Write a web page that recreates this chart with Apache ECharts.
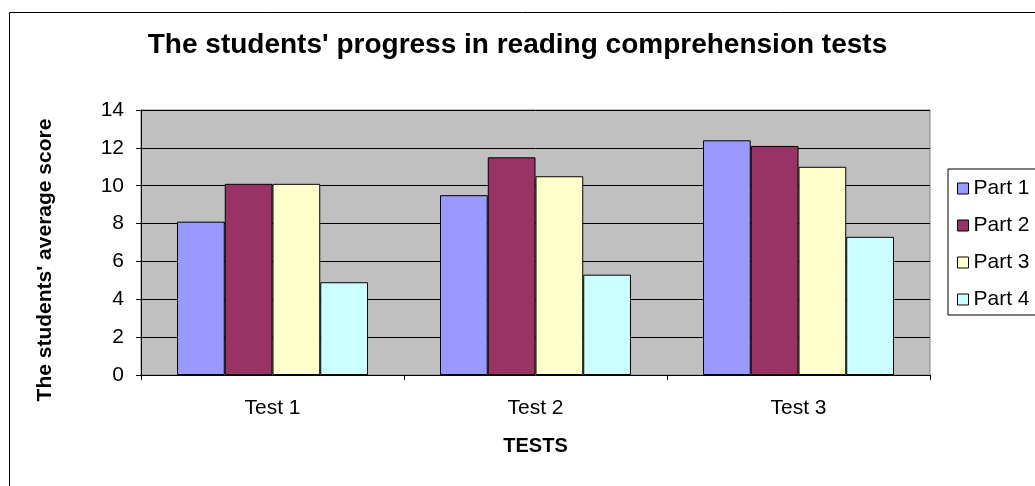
<!DOCTYPE html>
<html>
<head>
<meta charset="utf-8">
<script src="https://cdn.jsdelivr.net/npm/echarts@6/dist/echarts.min.js"></script>
<style>
  html, body { margin: 0; padding: 0; background: #fff; }
  #main { width: 1035px; height: 486px; }
</style>
</head>
<body>
<div id="main"></div>
<script>
// data
const categories = ['Test 1', 'Test 2', 'Test 3'];
const seriesNames = ['Part 1', 'Part 2', 'Part 3', 'Part 4'];
const part1 = [8.1, 9.5, 12.4];
const part2 = [10.1, 11.5, 12.1];
const part3 = [10.1, 10.5, 11.0];
const part4 = [4.9, 5.3, 7.3];
const yTicks = [0, 2, 4, 6, 8, 10, 12, 14];

const colors = ['#9999FF', '#993366', '#FFFFCC', '#CCFFFF'];
const values = [part1, part2, part3, part4];
const font = 'Liberation Sans, Arial, sans-serif';

const series = seriesNames.map((name, i) => ({
    name: name,
    type: 'bar',
    data: values[i],
    barGap: '0%',
    barCategoryGap: '27.4%',
    itemStyle: {color: colors[i], borderColor: '#000', borderWidth: 1},
    emphasis: {disabled: true}
}));

let option = {
    animation: false,
    title: {
        text: "The students' progress in reading comprehension tests",
        left: 'center',
        top: 26,
        textStyle: {fontFamily: font, fontSize: 28, fontWeight: 'bold', color: '#000'}
    },
    graphic: [{
        type: 'rect',
        shape: {x: 9.5, y: 12.5, width: 1100, height: 600},
        style: {fill: 'none', stroke: '#000', lineWidth: 1},
        silent: true
    }],
    legend: {
        orient: 'vertical',
        left: 948,
        top: 169,
        padding: [9, 40, 5, 9],
        itemWidth: 11,
        itemHeight: 11,
        itemGap: 16,
        borderColor: '#000',
        borderWidth: 1,
        icon: 'rect',
        itemStyle: {borderColor: '#000', borderWidth: 1},
        textStyle: {fontFamily: font, fontSize: 21, color: '#000'},
        data: seriesNames
    },
    grid: {
        left: 141,
        right: 105,
        top: 110,
        bottom: 111,
        show: true,
        backgroundColor: '#C0C0C0',
        borderColor: '#808080',
        borderWidth: 1
    },
    xAxis: {
        type: 'category',
        data: categories,
        name: 'TESTS',
        nameLocation: 'middle',
        nameGap: 61,
        nameTextStyle: {fontFamily: font, fontSize: 20, fontWeight: 'bold', color: '#000', verticalAlign: 'top'},
        axisLine: {lineStyle: {color: '#000', width: 1}},
        axisTick: {show: true, length: 5, lineStyle: {color: '#000'}},
        axisLabel: {fontFamily: font, fontSize: 21, color: '#000', margin: 23}
    },
    yAxis: {
        type: 'value',
        min: yTicks[0],
        max: yTicks[yTicks.length - 1],
        interval: 2,
        name: "The students' average score",
        nameLocation: 'middle',
        nameGap: 85,
        nameTextStyle: {fontFamily: font, fontSize: 21, fontWeight: 'bold', color: '#000', padding: [0, 35, 0, 0]},
        axisLine: {show: true, lineStyle: {color: '#000', width: 1}},
        axisTick: {show: true, length: 5, lineStyle: {color: '#000'}},
        axisLabel: {fontFamily: font, fontSize: 21, color: '#000', margin: 17},
        splitLine: {show: true, lineStyle: {color: '#000', width: 1}}
    },
    series: series
};

let myChart = echarts.init(document.getElementById('main'), null, {renderer: 'canvas'});
myChart.setOption(option);
</script>
</body>
</html>
